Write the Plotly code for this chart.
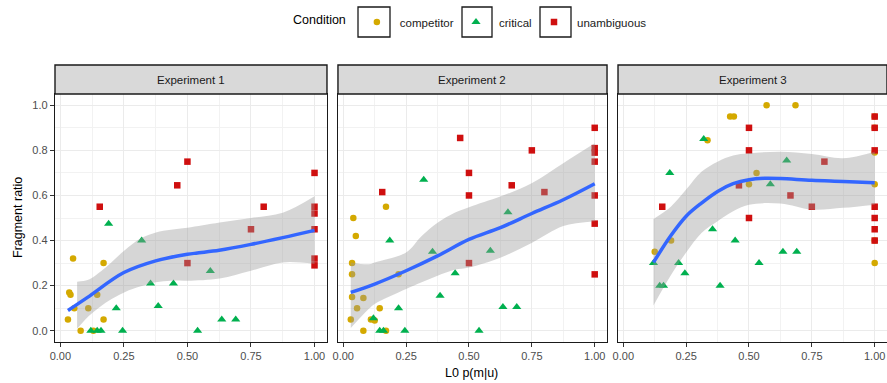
import plotly.graph_objects as go

experiments = ["Experiment 1", "Experiment 2", "Experiment 3"]
conditions = ["competitor", "critical", "unambiguous"]
x_ticks = [0, 0.25, 0.5, 0.75, 1.0]
y_ticks = [0, 0.2, 0.4, 0.6, 0.8, 1.0]

# ---------------- Experiment 1 ----------------
e1_comp_x = [0.05, 0.17, 0.035, 0.04, 0.145, 0.055, 0.11, 0.03, 0.17, 0.08, 0.13]
e1_comp_y = [0.32, 0.30, 0.17, 0.16, 0.16, 0.10, 0.10, 0.05, 0.05, 0.0, 0.0]
e1_crit_x = [0.19, 0.32, 0.355, 0.445, 0.22, 0.385, 0.12, 0.145, 0.16, 0.245, 0.59, 0.635, 0.69, 0.54]
e1_crit_y = [0.475, 0.40, 0.21, 0.21, 0.10, 0.11, 0.0, 0.0, 0.0, 0.0, 0.265, 0.05, 0.05, 0.0]
e1_unam_x = [0.5, 0.46, 0.155, 0.5, 1.0, 0.80, 1.0, 1.0, 0.75, 1.0, 1.0, 1.0]
e1_unam_y = [0.75, 0.645, 0.55, 0.30, 0.70, 0.55, 0.55, 0.52, 0.45, 0.45, 0.32, 0.29]
e1_fit_x = [0.03, 0.107, 0.25, 0.375, 0.5, 0.625, 0.75, 0.875, 1.0]
e1_fit_y = [0.09, 0.148, 0.258, 0.31, 0.339, 0.357, 0.383, 0.413, 0.445]
e1_band_x = [0.066, 0.107, 0.127, 0.186, 0.251, 0.317, 0.376, 0.435, 0.5, 0.627, 0.75, 0.875, 1.0]
e1_band_hi = [0.217, 0.225, 0.236, 0.288, 0.355, 0.41, 0.436, 0.448, 0.457, 0.48, 0.5, 0.523, 0.596]
e1_band_lo = [0.009, 0.06, 0.08, 0.13, 0.17, 0.197, 0.215, 0.222, 0.222, 0.232, 0.266, 0.303, 0.296]

# ---------------- Experiment 2 ----------------
e2_comp_x = [0.17, 0.04, 0.05, 0.035, 0.035, 0.22, 0.035, 0.08, 0.055, 0.145, 0.03, 0.11, 0.125, 0.08, 0.17]
e2_comp_y = [0.55, 0.50, 0.42, 0.30, 0.25, 0.25, 0.15, 0.145, 0.10, 0.10, 0.05, 0.05, 0.045, 0.0, 0.0]
e2_crit_x = [0.32, 0.185, 0.355, 0.445, 0.385, 0.22, 0.12, 0.145, 0.16, 0.245, 0.655, 0.585, 0.635, 0.69, 0.54]
e2_crit_y = [0.67, 0.40, 0.35, 0.255, 0.155, 0.10, 0.055, 0.0, 0.0, 0.0, 0.525, 0.355, 0.105, 0.105, 0.0]
e2_unam_x = [0.465, 0.5, 0.5, 0.155, 0.5, 0.75, 0.67, 0.80, 1.0, 1.0, 1.0, 1.0, 1.0, 1.0, 1.0]
e2_unam_y = [0.855, 0.70, 0.60, 0.615, 0.30, 0.80, 0.645, 0.615, 0.90, 0.81, 0.79, 0.75, 0.60, 0.475, 0.25]
e2_fit_x = [0.03, 0.125, 0.25, 0.375, 0.5, 0.625, 0.75, 0.875, 1.0]
e2_fit_y = [0.17, 0.207, 0.266, 0.332, 0.405, 0.457, 0.52, 0.581, 0.652]
e2_band_x = [0.03, 0.102, 0.125, 0.25, 0.312, 0.375, 0.443, 0.5, 0.627, 0.751, 0.875, 1.0]
e2_band_hi = [0.303, 0.295, 0.303, 0.347, 0.42, 0.479, 0.523, 0.548, 0.596, 0.655, 0.743, 0.831]
e2_band_lo = [0.012, 0.097, 0.119, 0.185, 0.215, 0.244, 0.27, 0.28, 0.325, 0.39, 0.464, 0.486]

# ---------------- Experiment 3 ----------------
e3_comp_x = [0.425, 0.44, 0.335, 0.5, 0.19, 0.125, 0.57, 0.685, 0.53, 1.0, 1.0, 1.0, 1.0, 1.0, 1.0]
e3_comp_y = [0.95, 0.95, 0.845, 0.65, 0.40, 0.35, 1.0, 1.0, 0.70, 0.95, 0.90, 0.79, 0.65, 0.40, 0.30]
e3_crit_x = [0.32, 0.185, 0.355, 0.445, 0.12, 0.22, 0.245, 0.145, 0.16, 0.385, 0.65, 0.585, 0.635, 0.69, 0.54]
e3_crit_y = [0.85, 0.70, 0.45, 0.40, 0.30, 0.30, 0.255, 0.20, 0.20, 0.20, 0.755, 0.65, 0.35, 0.35, 0.30]
e3_unam_x = [0.155, 0.46, 0.5, 0.5, 0.5, 0.80, 0.665, 0.75, 1.0, 1.0, 1.0, 1.0, 1.0, 1.0, 1.0]
e3_unam_y = [0.55, 0.645, 0.90, 0.80, 0.50, 0.75, 0.60, 0.55, 0.95, 0.90, 0.80, 0.55, 0.50, 0.45, 0.40]
e3_fit_x = [0.12, 0.188, 0.25, 0.312, 0.375, 0.437, 0.5, 0.56, 0.625, 0.75, 0.875, 1.0]
e3_fit_y = [0.303, 0.42, 0.508, 0.567, 0.618, 0.652, 0.67, 0.676, 0.675, 0.667, 0.662, 0.656]
e3_band_x = [0.12, 0.188, 0.25, 0.312, 0.375, 0.437, 0.5, 0.625, 0.75, 0.875, 1.0]
e3_band_hi = [0.496, 0.549, 0.626, 0.706, 0.75, 0.777, 0.787, 0.794, 0.784, 0.765, 0.794]
e3_band_lo = [0.112, 0.244, 0.347, 0.435, 0.486, 0.53, 0.559, 0.564, 0.537, 0.545, 0.559]

panels = [
    dict(pts=[(e1_comp_x, e1_comp_y), (e1_crit_x, e1_crit_y), (e1_unam_x, e1_unam_y)],
         fit=(e1_fit_x, e1_fit_y), band=(e1_band_x, e1_band_lo, e1_band_hi)),
    dict(pts=[(e2_comp_x, e2_comp_y), (e2_crit_x, e2_crit_y), (e2_unam_x, e2_unam_y)],
         fit=(e2_fit_x, e2_fit_y), band=(e2_band_x, e2_band_lo, e2_band_hi)),
    dict(pts=[(e3_comp_x, e3_comp_y), (e3_crit_x, e3_crit_y), (e3_unam_x, e3_unam_y)],
         fit=(e3_fit_x, e3_fit_y), band=(e3_band_x, e3_band_lo, e3_band_hi)),
]

colors = {"competitor": "#D4A900", "critical": "#00B04F", "unambiguous": "#CF0F0F"}
symbols = {"competitor": "circle", "critical": "triangle-up", "unambiguous": "square"}
sizes = {"competitor": 6.5, "critical": 8, "unambiguous": 6.5}
legend_ids = {"competitor": "legend", "critical": "legend2", "unambiguous": "legend3"}

FONT = "Liberation Sans, Arial, Helvetica, sans-serif"
fig = go.Figure()

for i, p in enumerate(panels):
    xa = "x" if i == 0 else f"x{i+1}"
    ya = "y" if i == 0 else f"y{i+1}"
    for cond, (xs, ys) in zip(conditions, p["pts"]):
        fig.add_trace(go.Scatter(
            x=xs, y=ys, mode="markers", name=cond, legendgroup=cond,
            legend=legend_ids[cond],
            showlegend=(i == 0), xaxis=xa, yaxis=ya,
            marker=dict(color=colors[cond], symbol=symbols[cond], size=sizes[cond],
                        line=dict(width=0)),
            hoverinfo="x+y"))
    bx, blo, bhi = p["band"]
    fig.add_trace(go.Scatter(x=bx, y=blo, mode="lines", line=dict(width=0, shape="spline"),
                             showlegend=False, xaxis=xa, yaxis=ya, hoverinfo="skip"))
    fig.add_trace(go.Scatter(x=bx, y=bhi, mode="lines", line=dict(width=0, shape="spline"),
                             fill="tonexty", fillcolor="rgba(153,153,153,0.4)",
                             showlegend=False, xaxis=xa, yaxis=ya, hoverinfo="skip"))
    fx, fy = p["fit"]
    fig.add_trace(go.Scatter(x=fx, y=fy, mode="lines",
                             line=dict(color="#3366FF", width=3.5, shape="spline"),
                             showlegend=False, xaxis=xa, yaxis=ya, hoverinfo="skip"))


def px_x(px):
    return (px - 55) / 832


def px_y(py):
    return 1 + (94 - py) / 248


domains = [[0, 0.3269], [0.3401, 0.6635], [0.6767, 1.0]]
axis_common = dict(showline=True, mirror=True, linecolor="#1A1A1A", linewidth=1.4,
                   showgrid=True, gridcolor="#EBEBEB", gridwidth=1.1, zeroline=False,
                   ticks="outside", ticklen=4, tickwidth=1, tickcolor="#333333",
                   tickfont=dict(family=FONT, size=11, color="#4D4D4D"))

leg_common = dict(orientation="h", yanchor="middle", y=px_y(22), xanchor="left",
                  itemwidth=36,
                  font=dict(family=FONT, size=11.5, color="#1A1A1A"),
                  bgcolor="rgba(0,0,0,0)", itemclick=False, itemdoubleclick=False)

layout = dict(
    width=887, height=383,
    margin=dict(l=55, r=0, t=94, b=41),
    plot_bgcolor="white", paper_bgcolor="white",
    font=dict(family=FONT, color="#000000"),
    showlegend=True,
    legend=dict(leg_common, x=px_x(291),
                title=dict(text="Condition", font=dict(family=FONT, size=12.5, color="#000"))),
    legend2=dict(leg_common, x=px_x(453)),
    legend3=dict(leg_common, x=px_x(531)),
)
for i in range(3):
    k = "" if i == 0 else str(i + 1)
    layout["xaxis" + k] = dict(axis_common, domain=domains[i], range=[-0.021, 1.049],
                               tickvals=x_ticks, tickformat=".2f", anchor="y" + k,
                               minor=dict(dtick=0.125, tick0=0, showgrid=True,
                                          gridcolor="#F2F2F2", gridwidth=0.6, ticks=""))
    layout["yaxis" + k] = dict(axis_common, domain=[0, 1], range=[-0.05, 1.05],
                               tickvals=y_ticks, tickformat=".1f", anchor="x" + k,
                               showticklabels=(i == 0), ticks="outside" if i == 0 else "",
                               minor=dict(dtick=0.1, tick0=0, showgrid=True,
                                          gridcolor="#F2F2F2", gridwidth=0.6, ticks=""))
fig.update_layout(**layout)

strip_h = 29 / 248
shapes = []
annotations = []
for i, name in enumerate(experiments):
    k = "" if i == 0 else str(i + 1)
    shapes.append(dict(type="rect", xref=f"x{k} domain", yref=f"y{k} domain",
                       x0=0, x1=1, y0=1, y1=1 + strip_h,
                       fillcolor="#D9D9D9", line=dict(color="#1A1A1A", width=1.4), layer="above"))
    annotations.append(dict(text=name, xref=f"x{k} domain", yref=f"y{k} domain",
                            x=0.5, y=1 + strip_h / 2, showarrow=False,
                            font=dict(family=FONT, size=11.5, color="#1A1A1A"),
                            xanchor="center", yanchor="middle"))

# legend key boxes (paper coordinates)
for x0, x1 in [(358, 390), (462, 492), (540, 571)]:
    shapes.append(dict(type="rect", xref="paper", yref="paper",
                       x0=px_x(x0), x1=px_x(x1), y0=px_y(37), y1=px_y(7),
                       line=dict(color="#1A1A1A", width=1.3), fillcolor="rgba(0,0,0,0)"))

annotations.append(dict(text="Fragment ratio", xref="paper", yref="paper",
                        x=px_x(18), y=0.5, textangle=-90, showarrow=False,
                        font=dict(family=FONT, size=12.5, color="#000"),
                        xanchor="center", yanchor="middle"))
annotations.append(dict(text="L0 p(m|u)", xref="paper", yref="paper",
                        x=0.5, y=px_y(373), showarrow=False,
                        font=dict(family=FONT, size=12.5, color="#000"),
                        xanchor="center", yanchor="middle"))
fig.update_layout(shapes=shapes, annotations=annotations)

fig.write_html("out.html", config={"displayModeBar": False},
               post_script="document.body.style.margin='0';")
